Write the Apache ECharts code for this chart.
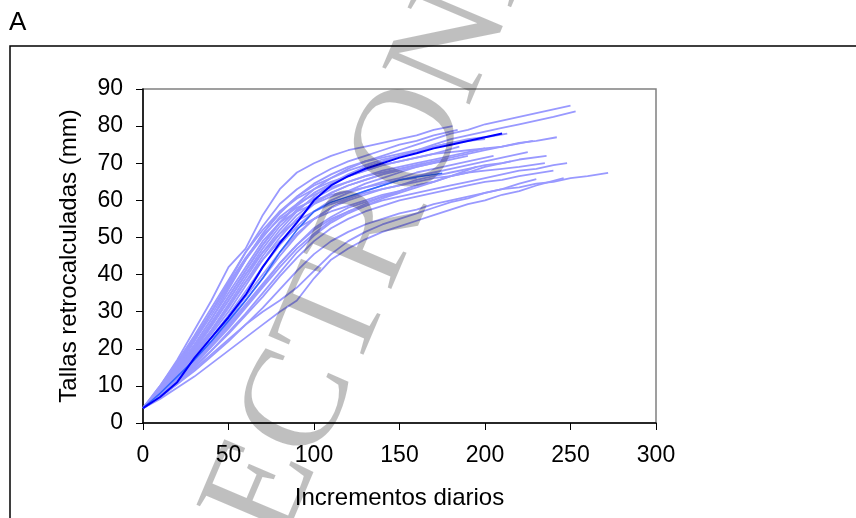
<!DOCTYPE html>
<html><head><meta charset="utf-8">
<script src="https://cdn.jsdelivr.net/npm/echarts@6/dist/echarts.min.js"></script>
<style>html,body{margin:0;padding:0;background:#fff}#c{width:856px;height:518px}</style>
</head><body><div id="c"></div>
<script>
// x ticks and y ticks
var xTicks = [0, 50, 100, 150, 200, 250, 300];
var yTicks = [0, 10, 20, 30, 40, 50, 60, 70, 80, 90];
var step = 10; // y values below are read every 10 increments; last value is at the line's end
// light lines: end x and y values
var lightEndX = [181, 184, 250, 253, 242, 213, 236, 248, 235, 272, 246, 230, 200, 190, 225, 170, 215, 160, 195, 185, 205, 150, 228, 178, 240, 165, 200];
var light01 = [4,10,17,25,33,42,47,56,63,67.5,70,72,73.5,74.5,75.5,76.5,77.5,79,80];
var light02 = [4,9,15,22,30,38,46,53,59,63,66,68.5,70.5,72,73.5,75,76,77.5,79];
var light03 = [4,9,14,20,27,34,41,48,54,59,63,66,68.5,70.5,72,73.5,75,76.5,78,79,80.5,81.5,82.5,83.5,84.5,85.5];
var light04 = [4,8.5,13.5,19,25,32,39,46,52,57,61,64.5,67,69,70.5,72,73.5,75,76.5,77.5,78.5,79.5,80.5,81.5,82.5,84];
var light05 = [4,8,13,18,24,30,37,44,50,55,59,62,64,65.5,67,68.5,69.5,70.5,71.5,72.5,73.5,74.5,75.5,76,77];
var light06 = [4,9,15,21,28,36,44,51,57,61,64,66,68,69.5,71,72,73,74.5,75.5,76.5,77,78];
var light07 = [4,8,12,17,22,28,34,40,46,51,55,58,60,61.5,63,64,65.5,66.5,67.5,68.5,69.5,70,71,72];
var light08 = [4,7.5,11.5,16,21,26,31.5,37,43,48,52,55,57,58.5,60,61,62,63,64,65,66,67,68,68.5,69.5,70];
var light09 = [4,8.5,14,20,26.5,33,40,46,51,54.5,57,59,60.5,62,63,64,65,66,66.5,67.5,68,68.5,69,70];
var light10 = [4,7,10.5,14,18,22,26.5,31,36,41,45.5,49,51.5,53.5,55,56.5,57.5,59,60,61,62,63,63.5,64.5,65,66,66.5,67.4];
var light11 = [4,6.5,9.5,12.5,16,19.5,23,26.5,30,33,39,44,47,49.5,51.5,53,54.5,56,57.5,59,60,61.5,62.5,64,66];
var light12 = [4,7,10.5,14.5,18.5,22.5,26.5,30,33,36.5,41,45.5,49,51.5,53.5,55,56.5,58,59.5,60.5,62,63,64.5,65.7];
var light13 = [4,9,14.5,20.5,27,34,41,48,54,58.5,62,64.5,66.5,68,69.5,70.5,71.5,72.5,73,73.5,74];
var light14 = [4,8,13,18.5,24.5,31,38,45,51,56,59.5,62,64,65.5,67,68,69,70,71,72];
var light15 = [4,7.5,12,16.5,21.5,27,33,39,45,50.5,55,58,60.5,62.5,64,65.5,66.5,67.5,68.5,69.5,70.5,71.5,73];
var light16 = [4,7,11,15.5,20.5,25.5,31,36.5,42,47,51,54.5,57,59,61,62.5,64,65];
var light17 = [4,8.5,13.5,19,25,31.5,38,44,49,52.5,55,57,58.5,60,61.5,62.5,64,65,66.5,67.5,69,70.5];
var light18 = [4,9.5,16,23,30,37.5,44.5,50.5,55,58,60,61.5,62.5,63.5,64.5,65.5,66];
var light19 = [4,7,11,15,19.5,24.5,29.5,35,40.5,46,50.5,54,56.5,58.5,60.5,62,63.5,65,66.5,69];
var light20 = [4,10,16.5,23.5,31,38.5,46,52,57,60.5,63,65,66.5,68,69.5,70.5,71.5,72.5,74.5];
var light21 = [4,8,12.5,17.5,23,29,35.5,42,48,53,57,60,62,63.5,65,66,67.5,68.5,69.5,70.5,72];
var light22 = [4,7.5,11.5,16,21,26.5,32,37.5,43,48,52.5,55.5,58,59.5,61,62];
var light23 = [4,8.5,14,19.5,26,33,40,47,53,57.5,60.5,63,65,66.5,68,69,70,71,72,73,74,74.5,76];
var light24 = [4,9,14.5,21,28,35,42,49,54,57,59,61,62.5,64.5,66,67.5,69,71];
var light25 = [4,7,11,15,19.5,24,29,34,39.5,44.5,49,52.5,55,57,58.5,60,61,62,63,64,65,65.5,66.5,68];
var light26 = [4,9,15.5,22.5,30,37,44,50,55.5,59,61.5,63.5,65,66.5,67.5,68.5,70];
var light27 = [4,9.5,15.5,22,29,36.5,44,51,56.5,61,64.5,67,69,70.5,71.5,72.5,73.5,74.5,75.5,76.5];
var lightLines = [light01,light02,light03,light04,light05,light06,light07,light08,light09,light10,light11,light12,light13,light14,light15,light16,light17,light18,light19,light20,light21,light22,light23,light24,light25,light26,light27];
// highlighted lines
var midEndX = 175;
var midLine = [4,8,12.5,17,22,27.5,33,39,46,52,57,59.5,61,62.5,64,65.5,66.3,67.3];
var darkEndX = 210;
var darkLine = [4,7,11,17.5,23,28.5,34.5,42,48.5,54,60,64,66.5,68.5,70,71.5,72.7,74,75,76,77,78];

function toPairs(ys, endX) {
  return ys.map(function (y, i) { return [i === ys.length - 1 ? endX : i * step, y]; });
}

var series = [];
lightLines.forEach(function (ys, k) {
  series.push({type: 'line', data: toPairs(ys, lightEndX[k]), symbol: 'none', silent: true,
    lineStyle: {color: '#9999ff', width: 1.8}, z: 2});
});
series.push({type: 'line', data: toPairs(midLine, midEndX), symbol: 'none', silent: true,
  lineStyle: {color: '#3366ff', width: 1.5}, z: 3});
series.push({type: 'line', data: toPairs(darkLine, darkEndX), symbol: 'none', silent: true,
  lineStyle: {color: '#0000ff', width: 2}, z: 4});

var chart = echarts.init(document.getElementById('c'), null, {renderer: 'canvas'});
var font = '"Liberation Sans", Arial, sans-serif';
chart.setOption({
  animation: false,
  backgroundColor: '#fff',
  grid: {left: 143, right: 200, top: 89, bottom: 95, show: true, borderColor: '#808080', borderWidth: 1.5},
  xAxis: {
    type: 'value', min: xTicks[0], max: xTicks[xTicks.length - 1], interval: 50,
    name: 'Incrementos diarios', nameLocation: 'middle', nameGap: 63,
    nameTextStyle: {fontFamily: font, fontSize: 24, color: '#000'},
    axisLine: {lineStyle: {color: '#000', width: 1.5}},
    axisTick: {show: true, length: 7, lineStyle: {color: '#000'}},
    axisLabel: {fontFamily: font, fontSize: 23, color: '#000', margin: 21},
    splitLine: {show: false}
  },
  yAxis: {
    type: 'value', min: yTicks[0], max: yTicks[yTicks.length - 1], interval: 10,
    name: 'Tallas retrocalculadas (mm)', nameLocation: 'middle', nameGap: 62, nameRotate: 90,
    nameTextStyle: {fontFamily: font, fontSize: 24, color: '#000'},
    axisLine: {show: true, lineStyle: {color: '#000', width: 1.5}},
    axisTick: {show: true, length: 7, lineStyle: {color: '#000'}},
    axisLabel: {fontFamily: font, fontSize: 23, color: '#000', margin: 20},
    splitLine: {show: false}
  },
  graphic: [
    {type: 'rect', shape: {x: 10, y: 46, width: 900, height: 520}, style: {fill: 'none', stroke: '#000', lineWidth: 1.5}, z: 0, silent: true},
    {type: 'text', x: 9, y: 10, style: {text: 'A', fontFamily: font, fontSize: 26, fill: '#000'}, silent: true},
    {type: 'text', x: 178, y: 694, rotation: 67 * Math.PI / 180, z: 100, silent: true,
      style: {text: 'ELECTRONICO', fontFamily: '"Liberation Serif", "DejaVu Serif", serif', fontSize: 145,
        fill: 'rgba(0,0,0,0.25)', textAlign: 'left', textVerticalAlign: 'middle'}}
  ],
  series: series
});
</script></body></html>
